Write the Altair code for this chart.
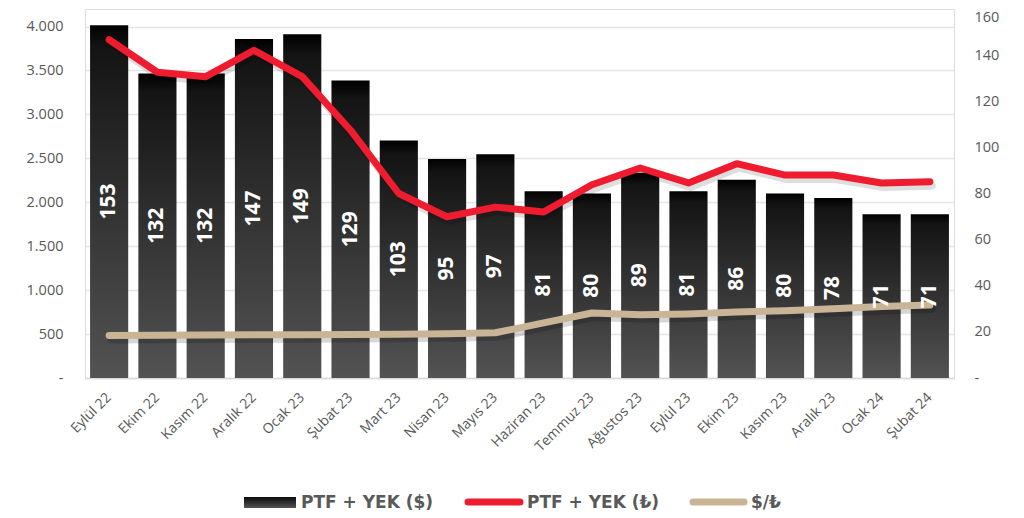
import altair as alt
import pandas as pd

months = ["Eylül 22", "Ekim 22", "Kasım 22", "Aralık 22", "Ocak 23", "Şubat 23",
          "Mart 23", "Nisan 23", "Mayıs 23", "Haziran 23", "Temmuz 23", "Ağustos 23",
          "Eylül 23", "Ekim 23", "Kasım 23", "Aralık 23", "Ocak 24", "Şubat 24"]
ptf_usd = [153, 132, 132, 147, 149, 129, 103, 95, 97, 81, 80, 89, 81, 86, 80, 78, 71, 71]
ptf_tl = [3850, 3480, 3430, 3730, 3430, 2820, 2100, 1835, 1945, 1890, 2200, 2390,
          2220, 2440, 2310, 2310, 2220, 2235]
usd_try = [18.4, 18.5, 18.6, 18.7, 18.8, 18.9, 19.0, 19.2, 19.6, 23.9, 28.2, 27.4,
           27.8, 28.6, 29.2, 30.0, 31.0, 31.6]

left_ticks = [0, 500, 1000, 1500, 2000, 2500, 3000, 3500, 4000]
right_ticks = [0, 20, 40, 60, 80, 100, 120, 140, 160]
legend_labels = ["PTF + YEK ($)", "PTF + YEK (₺)", "$/₺"]

df = pd.DataFrame({"ay": months, "usd": ptf_usd, "tl": ptf_tl, "kur": usd_try})
df["half"] = df["usd"] / 2

FONT = "Open Sans"
GRAY = "#595959"
RED = "#EF1C2F"
TAN = "#C9B596"

x_enc = alt.X("ay:N", sort=months, title=None,
              scale=alt.Scale(paddingInner=0.21, paddingOuter=0.105),
              axis=alt.Axis(labelAngle=-45, labelAlign="right", labelBaseline="middle",
                            labelFontSize=14, labelColor=GRAY, labelFont=FONT,
                            ticks=False, domain=True, domainColor="#d9d9d9",
                            domainWidth=1.5, labelPadding=17, grid=False))
x_plain = alt.X("ay:N", sort=months)

right_scale = alt.Scale(domain=[0, 160], nice=False)
left_scale = alt.Scale(domain=[0, 4200], nice=False)

bar_grad = alt.Gradient(
    gradient="linear",
    stops=[alt.GradientStop(color="#000000", offset=0),
           alt.GradientStop(color="#141414", offset=0.06),
           alt.GradientStop(color="#535353", offset=1)],
    x1=0, x2=0, y1=0, y2=1)

base = alt.Chart(df)

bar_shadow = base.mark_bar(color="#000000", opacity=0.0, stroke="#000000",
                           strokeOpacity=0.07, strokeWidth=6).encode(
    x=x_plain,
    y=alt.Y("usd:Q", scale=right_scale, axis=None),
)

bars = base.mark_bar(color=bar_grad).encode(
    x=x_enc,
    y=alt.Y("usd:Q", scale=right_scale, title=None,
            axis=alt.Axis(orient="right", values=right_ticks, grid=False, ticks=False,
                          domain=False, labelFontSize=14.5, labelColor=GRAY,
                          labelFont=FONT, labelPadding=20,
                          labelBaseline={"condition": {"test": "datum.value === 160",
                                                       "value": "top"},
                                         "value": "middle"},
                          labelOffset={"condition": {"test": "datum.value === 160",
                                                     "value": 1},
                                       "value": 0},
                          labelExpr="datum.value == 0 ? '-' : datum.label")),
)

tan_shadow = base.mark_line(color="#000000", opacity=0.16, strokeWidth=8,
                            strokeCap="round", strokeJoin="round",
                            xOffset=2, yOffset=4).encode(
    x=x_plain, y=alt.Y("kur:Q", scale=right_scale, axis=None))

tan_line = base.mark_line(color=TAN, strokeWidth=7, strokeCap="round",
                          strokeJoin="round").encode(
    x=x_plain, y=alt.Y("kur:Q", scale=right_scale, axis=None))

red_shadow = base.mark_line(color="#000000", opacity=0.13, strokeWidth=8,
                            strokeCap="round", strokeJoin="round",
                            xOffset=2, yOffset=4).encode(
    x=x_plain, y=alt.Y("tl:Q", scale=left_scale, axis=None))

red_line = base.mark_line(color=RED, strokeWidth=7, strokeCap="round",
                          strokeJoin="round").encode(
    x=x_plain,
    y=alt.Y("tl:Q", scale=left_scale, title=None,
            axis=alt.Axis(orient="left", values=left_ticks, grid=True,
                          gridColor="#e4e4e4", gridWidth=1.3, ticks=False, domain=False,
                          labelFontSize=14.5, labelColor=GRAY, labelFont=FONT,
                          labelPadding=22,
                          labelExpr="datum.value == 0 ? '-' : replace(format(datum.value, ','), ',', '.')")),
)

labels = base.mark_text(color="white", font=FONT, fontWeight="bold", fontSize=21,
                        angle=270, align="center", baseline="middle").encode(
    x=x_plain,
    y=alt.Y("half:Q", scale=right_scale, axis=None),
    text=alt.Text("usd:Q"),
)

leg = pd.DataFrame({"k": [0]})
leg_base = alt.Chart(leg)
leg_grad = alt.Gradient(
    gradient="linear",
    stops=[alt.GradientStop(color="#0a0a0a", offset=0),
           alt.GradientStop(color="#555555", offset=1)],
    x1=0, x2=0, y1=0, y2=1)
leg_rect = leg_base.mark_rect(color=leg_grad).encode(
    x=alt.value(159), x2=alt.value(211), y=alt.value(488), y2=alt.value(499))
leg_red = leg_base.mark_rule(color=RED, strokeWidth=7, strokeCap="round").encode(
    x=alt.value(383), x2=alt.value(435), y=alt.value(493))
leg_tan = leg_base.mark_rule(color=TAN, strokeWidth=7, strokeCap="round").encode(
    x=alt.value(608), x2=alt.value(659), y=alt.value(493))
leg_texts = []
for lbl, xp in zip(legend_labels, [216, 442, 666]):
    leg_texts.append(
        leg_base.mark_text(text=lbl, font="DejaVu Sans", fontWeight="bold", fontSize=17,
                           color=GRAY, align="left", baseline="alphabetic").encode(
            x=alt.value(xp), y=alt.value(498.5)))

chart = alt.layer(bar_shadow, bars, tan_shadow, tan_line, red_shadow, red_line, labels,
                  leg_rect, leg_red, leg_tan,
                  *leg_texts).resolve_scale(y="independent").properties(
    width=869, height=369,
    autosize=alt.AutoSizeParams(type="none"),
    padding={"left": 77, "top": 1, "right": 62, "bottom": 132},
).configure_view(stroke=None).configure(background="white")

chart.save("out.html", embed_options={"renderer": "svg", "actions": False})
